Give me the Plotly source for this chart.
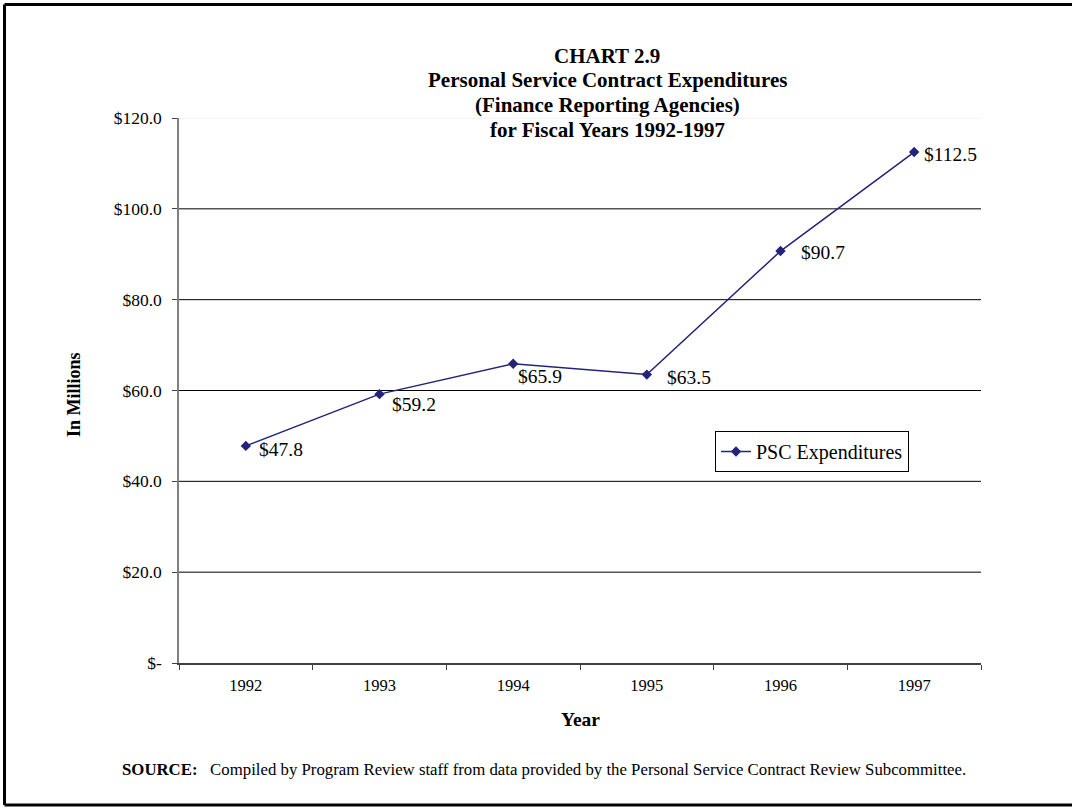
import plotly.graph_objects as go

years = ["1992", "1993", "1994", "1995", "1996", "1997"]
psc_expenditures = [47.8, 59.2, 65.9, 63.5, 90.7, 112.5]
y_tick_values = [0, 20, 40, 60, 80, 100, 120]
y_tick_labels = ["$-", "$20.0", "$40.0", "$60.0", "$80.0", "$100.0", "$120.0"]
title_lines = ["CHART 2.9", "Personal Service Contract Expenditures",
               "(Finance Reporting Agencies)", "for Fiscal Years 1992-1997"]
# pixel offsets of each data label from its point (style only)
label_dx = [11, 10, 3, 18, 18, 8]
label_dy = [-4, -10, -13, -3, -1, -2]

FONT = "Liberation Serif, Times New Roman, serif"
NAVY = "#23237a"

fig = go.Figure()
fig.add_trace(go.Scatter(
    x=years, y=psc_expenditures,
    mode="lines+markers",
    name="PSC Expenditures",
    line=dict(color=NAVY, width=1.5),
    marker=dict(symbol="diamond", size=8, color=NAVY),
    hoverinfo="x+y",
))

W, H = 1072, 810
L, R, T, B = 179, 91, 118, 147
PW, PH = W - L - R, H - T - B

def px(xp):
    return (xp - L) / PW

def py(yp):
    return (H - B - yp) / PH

fig.update_layout(
    width=W, height=H,
    margin=dict(l=L, r=R, t=T, b=B),
    paper_bgcolor="white", plot_bgcolor="white",
    font=dict(family=FONT, color="black"),
    xaxis=dict(
        type="category", range=[-0.5, 5.5],
        tickson="boundaries", ticks="outside", ticklen=5, tickcolor="#404040",
        showline=True, linecolor="#404040", linewidth=1.5,
        showgrid=False,
        tickfont=dict(family=FONT, size=16.5),
        ticklabelstandoff=6,
    ),
    yaxis=dict(
        range=[0, 120], tickvals=y_tick_values, ticktext=y_tick_labels,
        ticks="outside", ticklen=5, tickcolor="#404040",
        showline=True, linecolor="#808080", linewidth=1.5,
        showgrid=False, zeroline=False,
        tickfont=dict(family=FONT, size=17.5),
        ticklabelstandoff=7,
    ),
    legend=dict(
        x=px(715), y=py(431), xanchor="left", yanchor="top",
        bordercolor="black", borderwidth=1, bgcolor="white",
        font=dict(family=FONT, size=20),
        itemwidth=30, tracegroupgap=0,
    ),
    showlegend=True,
)

# gridlines
for v in y_tick_values[1:]:
    fig.add_shape(type="line", xref="paper", yref="y", x0=0, x1=1, y0=v, y1=v,
                  line=dict(color="#e6e6e6" if v == 120 else "black", width=1), layer="below")

# data labels, placed on the data coordinates (category index on the x axis)
for i, (v, dx, dy) in enumerate(zip(psc_expenditures, label_dx, label_dy)):
    fig.add_annotation(x=i, y=v, xref="x", yref="y", text=f"${v:.1f}",
                       xanchor="left", yanchor="middle", xshift=dx, yshift=dy,
                       showarrow=False, font=dict(family=FONT, size=19.5, color="black"))

# title lines
for line, yc in zip(title_lines, [56, 80, 105, 130]):
    fig.add_annotation(xref="paper", yref="paper", x=px(607), y=py(yc),
                       xanchor="center", yanchor="middle", showarrow=False,
                       text=f"<b>{line}</b>", font=dict(family=FONT, size=21, color="black"))

# axis titles
fig.add_annotation(xref="paper", yref="paper", x=px(74), y=py(395), textangle=-90,
                   xanchor="center", yanchor="middle", showarrow=False,
                   text="<b>In Millions</b>", font=dict(family=FONT, size=18, color="black"))
fig.add_annotation(xref="paper", yref="paper", x=px(580), y=py(719),
                   xanchor="center", yanchor="middle", showarrow=False,
                   text="<b>Year</b>", font=dict(family=FONT, size=19.5, color="black"))

# outer frame: left, top and bottom edges
fl, ft, fb, fr = px(4.5), py(4.5), py(805), px(1100)
fig.add_shape(type="line", xref="paper", yref="paper", x0=fl, x1=fl, y0=fb, y1=ft,
              line=dict(color="black", width=3))
fig.add_shape(type="line", xref="paper", yref="paper", x0=fl, x1=fr, y0=ft, y1=ft,
              line=dict(color="black", width=3))
fig.add_shape(type="line", xref="paper", yref="paper", x0=fl, x1=fr, y0=fb, y1=fb,
              line=dict(color="black", width=3))

fig.add_annotation(
    xref="paper", yref="paper", x=px(120), y=py(769), xanchor="left", yanchor="middle",
    text="<b>SOURCE:</b>   Compiled by Program Review staff from data provided by the Personal Service Contract Review Subcommittee.",
    showarrow=False, font=dict(family=FONT, size=16.8, color="black"),
)

fig.write_html(
    "out.html", config={"displayModeBar": False},
    post_script="document.body.style.margin='0';document.body.style.overflow='hidden';"
                "document.documentElement.style.overflow='hidden';",
)
